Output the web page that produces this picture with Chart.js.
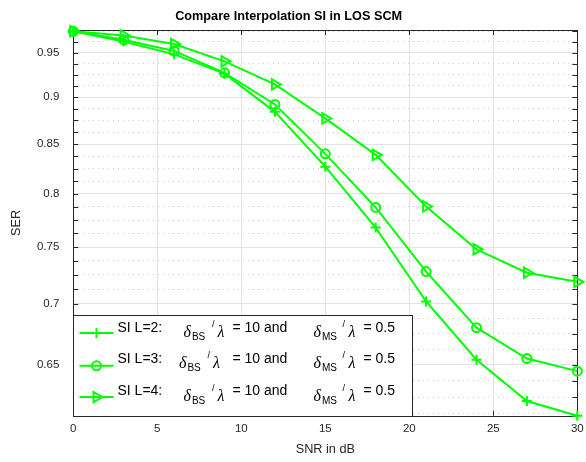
<!DOCTYPE html>
<html lang="en">
<head>
<meta charset="UTF-8">
<title>Compare Interpolation SI in LOS SCM</title>
<script src="https://cdn.jsdelivr.net/npm/chart.js@4.4.0/dist/chart.umd.min.js"></script>
<style>
  body { margin: 0; background: #fff; }
  #wrap { width: 586px; height: 462px; position: relative; }
</style>
</head>
<body>
<div id="wrap"><canvas id="serChart"></canvas></div>
<script>
// values (semilogy, SER vs SNR)
var snr = [0, 3, 6, 9, 12, 15, 18, 21, 24, 27, 30];
var serL2 = [0.975, 0.963, 0.948, 0.926, 0.884, 0.827, 0.768, 0.702, 0.654, 0.622, 0.611];
var serL3 = [0.975, 0.965, 0.952, 0.927, 0.892, 0.840, 0.787, 0.728, 0.680, 0.655, 0.645];
var serL4 = [0.975, 0.970, 0.960, 0.940, 0.914, 0.877, 0.839, 0.788, 0.748, 0.727, 0.719];
var xTicks = [0, 5, 10, 15, 20, 25, 30];
var yTicks = [0.65, 0.7, 0.75, 0.8, 0.85, 0.9, 0.95];
var yMinorStep = 0.0125;
var seriesNames = ['SI L=2:', 'SI L=3:', 'SI L=4:'];

var GREEN = '#00ff00';
var AXIS = '#262626';
var FONT = '"Liberation Sans", Arial, Helvetica, sans-serif';

function pts(ys) {
    return snr.map(function (x, i) { return { x: x, y: ys[i] }; });
}

function isMajor(v) {
    return yTicks.some(function (t) { return Math.abs(t - v) < 1e-6; });
}

// minor grid every 0.0125, labels only on the 0.05 steps
function buildYTicks(scale) {
    var out = [];
    var k = Math.ceil(scale.min / yMinorStep - 1e-9);
    for (; k * yMinorStep <= scale.max + 1e-9; k++) {
        var v = Math.round(k * yMinorStep * 10000) / 10000;
        out.push({ value: v, isMajor: isMajor(v) });
    }
    scale.ticks = out;
}

// axes box with inward ticks, like matlab
var boxPlugin = {
    id: 'matlabBox',
    beforeDatasetsDraw: function (chart) {
        var a = chart.chartArea, ctx = chart.ctx;
        var xs = chart.scales.x, ys = chart.scales.y;
        ctx.save();
        ctx.strokeStyle = AXIS;
        ctx.lineWidth = 1;
        ctx.beginPath();
        xTicks.forEach(function (t) {
            var px = Math.round(xs.getPixelForValue(t)) + 0.5;
            ctx.moveTo(px, a.bottom); ctx.lineTo(px, a.bottom - 5);
            ctx.moveTo(px, a.top); ctx.lineTo(px, a.top + 5);
        });
        ys.ticks.forEach(function (t) {
            var py = Math.round(ys.getPixelForValue(t.value)) + 0.5;
            ctx.moveTo(a.left, py); ctx.lineTo(a.left + 5, py);
            ctx.moveTo(a.right, py); ctx.lineTo(a.right - 5, py);
        });
        ctx.stroke();
        ctx.strokeRect(Math.round(a.left) + 0.5, Math.round(a.top) + 0.5,
            Math.round(a.right - a.left), Math.round(a.bottom - a.top));
        ctx.restore();
    }
};

function drawMarker(ctx, kind, x, y) {
    ctx.beginPath();
    if (kind === 'cross') {
        ctx.moveTo(x - 5, y); ctx.lineTo(x + 5, y);
        ctx.moveTo(x, y - 5); ctx.lineTo(x, y + 5);
    } else if (kind === 'circle') {
        ctx.arc(x, y, 4.5, 0, Math.PI * 2);
    } else {
        ctx.moveTo(x + 6, y);
        ctx.lineTo(x - 3, y - 5.2);
        ctx.lineTo(x - 3, y + 5.2);
        ctx.closePath();
    }
    ctx.stroke();
}

// legend with the tex-style delta/lambda text
var legendPlugin = {
    id: 'texLegend',
    afterDraw: function (chart) {
        var ctx = chart.ctx, a = chart.chartArea;
        var left = Math.round(a.left) + 0.5;
        var top = 315.5;
        var w = 339, h = Math.round(a.bottom) - 315;
        var markers = ['cross', 'circle', 'triangle'];
        var lineY = [17.6, 50.3, 81.6];
        var baseY = [16, 47, 79.6];
        var shift = [0, -4.5, 0];

        ctx.save();
        ctx.fillStyle = '#fff';
        ctx.fillRect(left, top, w, h);
        ctx.strokeStyle = AXIS;
        ctx.lineWidth = 1;
        ctx.strokeRect(left, top, w, h);

        for (var i = 0; i < 3; i++) {
            var ly = top + lineY[i];
            var by = top + baseY[i];
            ctx.strokeStyle = GREEN;
            ctx.lineWidth = 2;
            ctx.beginPath();
            ctx.moveTo(left + 6, ly); ctx.lineTo(left + 40, ly);
            ctx.stroke();
            drawMarker(ctx, markers[i], left + 23, ly);

            ctx.fillStyle = '#000';
            ctx.textBaseline = 'alphabetic';
            ctx.textAlign = 'left';
            ctx.font = '14px ' + FONT;
            ctx.fillText(seriesNames[i], left + 44, by);
            ctx.fillText('= 10 and', left + 159, by);
            ctx.fillText('= 0.5', left + 290, by);

            var s = shift[i];
            ctx.font = 'italic 16px "Liberation Serif", "DejaVu Serif", serif';
            ctx.fillText('\u03b4', left + 110 + s, by + 5.5);
            ctx.fillText('\u03bb', left + 144 + s, by + 5.5);
            ctx.fillText('\u03b4', left + 240, by + 5.5);
            ctx.fillText('\u03bb', left + 275, by + 5.5);

            ctx.font = '10px ' + FONT;
            ctx.fillText('BS', left + 118.4 + s, by + 8.5);
            ctx.fillText('MS', left + 248.4, by + 8.5);
            ctx.font = '9px ' + FONT;
            ctx.fillText('/', left + 138.4 + s, by - 4.5);
            ctx.fillText('/', left + 269, by - 4.5);
        }
        ctx.restore();
    }
};

function series(label, ys, style, radius) {
    return {
        label: label,
        data: pts(ys),
        borderColor: GREEN,
        backgroundColor: GREEN,
        borderWidth: 2,
        pointStyle: style,
        pointRadius: radius,
        pointHoverRadius: radius,
        pointBorderWidth: 2,
        pointBorderColor: GREEN,
        pointBackgroundColor: 'rgba(0,0,0,0)',
        pointRotation: style === 'triangle' ? 90 : 0,
        tension: 0,
        clip: false
    };
}

var chart = new Chart(document.getElementById('serChart'), {
    type: 'line',
    data: {
        datasets: [
            series(seriesNames[0], serL2, 'cross', 5),
            series(seriesNames[1], serL3, 'circle', 4.5),
            series(seriesNames[2], serL4, 'triangle', 6)
        ]
    },
    options: {
        responsive: true,
        maintainAspectRatio: false,
        animation: false,
        layout: { padding: { left: 0, right: 8.7, top: 0, bottom: 0 } },
        plugins: {
            legend: { display: false },
            tooltip: { enabled: false },
            title: {
                display: true,
                text: 'Compare Interpolation SI in LOS SCM',
                color: '#000',
                font: { family: FONT, size: 12.7, weight: 'bold' },
                padding: { top: 9.1, bottom: 5.66 }
            }
        },
        scales: {
            x: {
                type: 'linear',
                min: 0,
                max: 30,
                afterBuildTicks: function (scale) {
                    scale.ticks = xTicks.map(function (v) { return { value: v }; });
                },
                afterFit: function (scale) {
                    scale.height = 46.3;
                    scale.paddingLeft = 0;
                    scale.paddingRight = 0;
                },
                ticks: {
                    color: AXIS,
                    font: { family: FONT, size: 11.5 },
                    padding: 6,
                    maxRotation: 0,
                    autoSkip: false
                },
                grid: {
                    color: '#e3e3e3',
                    lineWidth: 1,
                    drawTicks: false
                },
                border: { display: false },
                title: {
                    display: true,
                    text: 'SNR in dB',
                    color: AXIS,
                    font: { family: FONT, size: 12.7 },
                    padding: { top: 0, bottom: 4.4 }
                }
            },
            y: {
                type: 'logarithmic',
                min: 0.611,
                max: 0.9765,
                afterBuildTicks: buildYTicks,
                afterFit: function (scale) {
                    scale.width = 73.3;
                    scale.paddingTop = 0;
                    scale.paddingBottom = 0;
                },
                ticks: {
                    color: AXIS,
                    font: { family: FONT, size: 11.5 },
                    padding: 14,
                    autoSkip: false,
                    callback: function (value) {
                        return isMajor(value) ? String(Math.round(value * 100) / 100) : '';
                    }
                },
                grid: {
                    drawTicks: false,
                    color: function (ctx) {
                        return ctx.tick && ctx.tick.isMajor ? '#e3e3e3' : '#cfcfcf';
                    },
                    lineWidth: 1
                },
                border: {
                    display: false,
                    dash: function (ctx) {
                        return ctx.tick && !ctx.tick.isMajor ? [1, 4] : [];
                    }
                },
                title: {
                    display: true,
                    text: 'SER',
                    color: AXIS,
                    font: { family: FONT, size: 12.7 },
                    padding: { top: 9.1, bottom: 0 }
                }
            }
        }
    },
    plugins: [boxPlugin, legendPlugin]
});
</script>
</body>
</html>
